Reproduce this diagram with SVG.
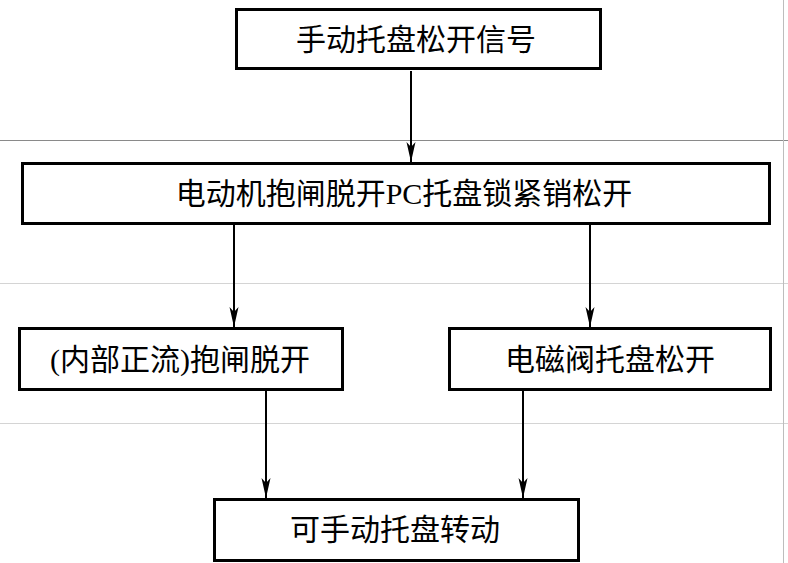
<svg xmlns="http://www.w3.org/2000/svg" width="788" height="563" viewBox="0 0 788 563">
<style>
.box{fill:#fff;stroke:#000;stroke-width:3}
.lbl{font-family:"Liberation Serif","Noto Sans CJK SC",serif;font-size:30px;fill:#000;text-anchor:middle}
.conn{stroke:#000;stroke-width:2;fill:none}
.grid{stroke:#d4d4d4;stroke-width:1}
</style>
<defs>
<marker id="arr" markerUnits="userSpaceOnUse" markerWidth="20" markerHeight="10" viewBox="-20 -5 20 10" refX="0" refY="0" orient="auto">
<path d="M0,0 L-20,-4.5 L-15,0 L-20,4.5 Z" fill="#000"/>
</marker>
</defs>
<rect width="788" height="563" fill="#fff"/>
<g id="background">
<line class="grid" x1="0" y1="140.5" x2="788" y2="140.5" style="stroke:#8a8a8a"/>
<line class="grid" x1="0" y1="283.5" x2="788" y2="283.5"/>
<line class="grid" x1="0" y1="423.5" x2="788" y2="423.5"/>
<line class="grid" x1="783.5" y1="0" x2="783.5" y2="563" style="stroke:#bdbdbd"/>
</g>
<g id="connectors">
<line class="conn" x1="411" y1="71" x2="411" y2="162" marker-end="url(#arr)"/>
<line class="conn" x1="234" y1="225" x2="234" y2="327" marker-end="url(#arr)"/>
<line class="conn" x1="590" y1="225" x2="590" y2="327" marker-end="url(#arr)"/>
<line class="conn" x1="266" y1="391" x2="266" y2="498" marker-end="url(#arr)"/>
<line class="conn" x1="523" y1="391" x2="523" y2="498" marker-end="url(#arr)"/>
</g>
<g id="node1">
<rect class="box" x="236.5" y="9.5" width="364" height="59"/>
<text class="lbl" x="416" y="50">手动托盘松开信号</text>
</g>
<g id="node2">
<rect class="box" x="22.5" y="163.5" width="747" height="60"/>
<text class="lbl" x="404" y="204">电动机抱闸脱开PC托盘锁紧销松开</text>
</g>
<g id="node3">
<rect class="box" x="19.5" y="328.5" width="323" height="61"/>
<text class="lbl" x="180" y="370">(内部正流)抱闸脱开</text>
</g>
<g id="node4">
<rect class="box" x="449.5" y="328.5" width="321" height="61"/>
<text class="lbl" x="610" y="370">电磁阀托盘松开</text>
</g>
<g id="node5">
<rect class="box" x="214.5" y="499.5" width="364" height="61"/>
<text class="lbl" x="395" y="540">可手动托盘转动</text>
</g>
</svg>
